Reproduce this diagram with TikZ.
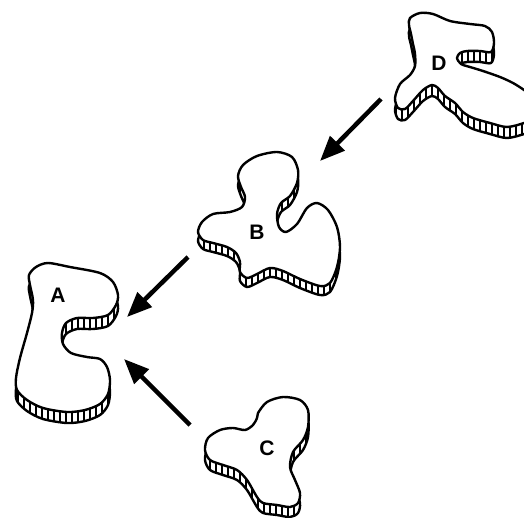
\documentclass[tikz,border=0pt]{standalone}
\usepackage{fontspec}
\setmainfont{Liberation Sans}
\usetikzlibrary{arrows.meta}
\tikzset{
  outl/.style={line width=2.4pt, line join=round},
  hatch/.style={line width=1.2pt},
  arr/.style={line width=4.5pt, -{Triangle[length=25pt,width=20pt]}},
  lbl/.style={font=\fontsize{21}{21}\selectfont\bfseries, inner sep=0pt}
}
% #1 depth, #2 list of hatch x positions, #3 y range top, #4 y range bottom, #5 coordinates
\newcommand{\extrblob}[5]{%
  \foreach \t in {0,1,...,#1} {%
    \begin{scope}
      \clip[shift={(0,\t)}] plot[smooth cycle] coordinates {#5};
      \foreach \x in {#2} { \draw[hatch] (\x,#3) -- (\x,#4); }
    \end{scope}
  }
  \draw[outl, shift={(0,#1)}] plot[smooth cycle] coordinates {#5};
  \draw[outl, fill=white] plot[smooth cycle] coordinates {#5};
}
\begin{document}
\begin{tikzpicture}[x=1pt,y=-1pt]
\useasboundingbox (0,0) rectangle (524,517);
\clip (0,0) rectangle (524,517);
% A
\extrblob{11}{12,18,...,126}{255}{430}{(48,263) (70,267) (100,273) (113,282) (118,295) (116,305) (108,315) (93,318) (77,318) (66,323) (62,333) (63,344) (71,353) (87,357) (100,359) (107,367) (110,380) (108,394) (100,404) (85,410) (67,412) (43,408) (27,400) (17,390) (16,378) (20,358) (27,333) (32,313) (33,300) (30,285) (29,275) (36,267)}
% B
\extrblob{9}{192,198,...,348}{145}{300}{(243,165) (257,156) (277,152) (292,157) (298,170) (297,183) (290,196) (281,203) (277,214) (279,227) (286,232) (297,224) (307,208) (317,203) (328,210) (337,227) (340,247) (337,267) (330,283) (320,286) (300,279) (283,271) (270,268) (257,274) (247,278) (240,272) (240,262) (236,253) (227,247) (213,243) (203,240) (198,232) (202,222) (213,214) (230,212) (242,207) (245,197) (241,187) (238,176)}
% C
\extrblob{10}{198,204,...,318}{390}{520}{(258,413) (267,402) (283,397) (300,400) (308,410) (308,427) (303,440) (293,452) (290,467) (295,480) (300,493) (298,503) (290,507) (277,505) (263,503) (257,497) (247,480) (237,470) (223,465) (210,460) (205,450) (208,438) (220,430) (233,428) (245,430) (253,425) (257,418)}
% D
\extrblob{11}{390,396,...,540}{5}{145}{(410,18) (420,13) (433,14) (450,21) (470,24) (485,26) (492,32) (494,43) (491,52) (480,51) (467,51) (460,53) (457,58) (461,64) (470,67) (483,71) (500,77) (513,83) (524,90) (534,98) (534,118) (524,123) (507,127) (490,123) (473,118) (463,112) (455,103) (445,96) (438,88) (432,85) (423,90) (413,101) (405,109) (398,108) (395,98) (400,84) (410,75) (415,66) (415,54) (413,44) (411,34) (409,25)}
% labels
\node[lbl] (labA) at (58,295) {A};
\node[lbl] (labB) at (257,232) {B};
\node[lbl] (labC) at (267,448) {C};
\node[lbl] (labD) at (439,63) {D};
% arrows
\coordinate (dbTail) at (381,99);
\coordinate (dbTip) at (320,161);
\coordinate (baTail) at (188,257);
\coordinate (baTip) at (127,317);
\coordinate (caTail) at (190,425);
\coordinate (caTip) at (124,359);
\draw[arr] (dbTail) -- (dbTip);
\draw[arr] (baTail) -- (baTip);
\draw[arr] (caTail) -- (caTip);
\end{tikzpicture}
\end{document}
